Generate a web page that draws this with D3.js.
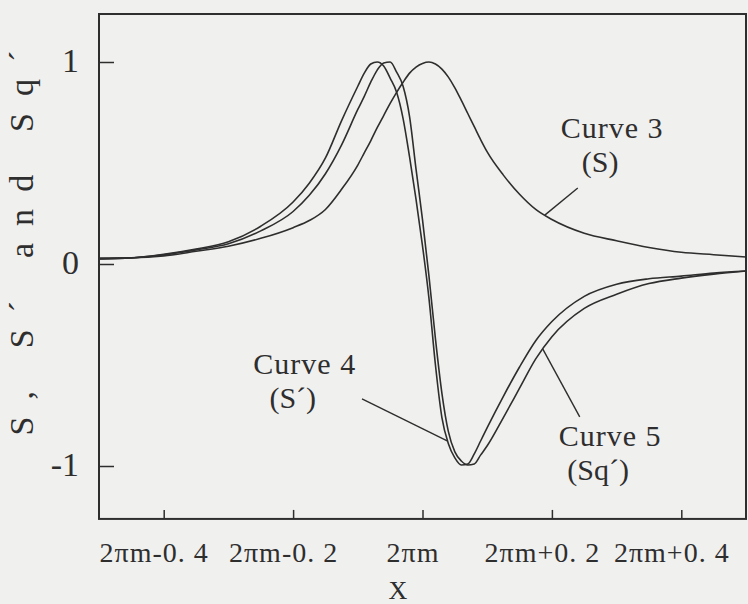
<!DOCTYPE html>
<html>
<head>
<meta charset="utf-8">
<script src="https://cdn.jsdelivr.net/npm/d3@7"></script>
<style>
  html, body { margin: 0; padding: 0; background: #f0f0ee; }
  svg { display: block; }
  text { font-family: "Liberation Serif", "DejaVu Serif", serif; fill: #2e2e2e; }
</style>
</head>
<body>
<svg id="chart" width="748" height="604"></svg>
<script>
// Sample positions along x (offset from 2πm)
const xGrid = [-0.5, -0.45, -0.4, -0.35, -0.3, -0.25, -0.2, -0.175, -0.15, -0.125,
  -0.1, -0.09, -0.08, -0.07, -0.06, -0.05, -0.04, -0.03, -0.02, -0.01,
  0, 0.01, 0.02, 0.03, 0.04, 0.05, 0.06, 0.07, 0.08, 0.09,
  0.1, 0.125, 0.15, 0.175, 0.2, 0.25, 0.3, 0.35, 0.4, 0.45, 0.5];

// Curve 3 (S)
const curveS = [0.03, 0.031, 0.040, 0.063, 0.088, 0.127, 0.180, 0.215, 0.27, 0.37,
  0.49, 0.55, 0.61, 0.675, 0.735, 0.795, 0.85, 0.90, 0.945, 0.975,
  0.993, 1.0, 0.99, 0.965, 0.925, 0.872, 0.81, 0.745, 0.68, 0.615,
  0.555, 0.44, 0.345, 0.27, 0.22, 0.152, 0.115, 0.082, 0.058, 0.046, 0.035];

// Curve 4 (S´)
const curveSPrime = [0.025, 0.03, 0.048, 0.074, 0.11, 0.187, 0.307, 0.40, 0.525, 0.71,
  0.88, 0.945, 0.99, 1.0, 0.98, 0.92, 0.85, 0.72, 0.53, 0.32,
  0.09, -0.17, -0.50, -0.76, -0.89, -0.96, -0.995, -0.99, -0.94, -0.875,
  -0.81, -0.655, -0.51, -0.38, -0.285, -0.16, -0.10, -0.073, -0.06, -0.045, -0.035];

// Curve 5 (Sq´)
const curveSqPrime = [0.025, 0.03, 0.045, 0.07, 0.10, 0.164, 0.26, 0.34, 0.447, 0.59,
  0.765, 0.83, 0.90, 0.96, 0.995, 1.0, 0.95, 0.88, 0.73, 0.47,
  0.22, -0.06, -0.37, -0.64, -0.83, -0.93, -0.975, -0.995, -0.99, -0.945,
  -0.90, -0.76, -0.615, -0.47, -0.36, -0.22, -0.15, -0.097, -0.07, -0.05, -0.035];

const xTickValues = [-0.4, -0.2, 0, 0.2, 0.4];
const xTickLabels = ["2πm-0. 4", "2πm-0. 2", "2πm", "2πm+0. 2", "2πm+0. 4"];
const yTickValues = [-1, 0, 1];
const yTickLabels = ["-1", "0", "1"];
const xTitle = "X";
const yTitle = "S, S´ and Sq´";

const seriesList = [curveS, curveSPrime, curveSqPrime];

// Callouts: label anchor (data units), leader start (data units), leader end on a curve at x
const calloutTitles = ["Curve 3", "Curve 4", "Curve 5"];
const calloutSubs = ["(S)", "(S´)", "(Sq´)"];
const calloutSeries = [0, 1, 2];
const calloutLabelX = [0.293, -0.182, 0.290];
const calloutLabelY = [0.625, -0.545, -0.90];
const calloutFromX = [0.240, -0.0935, 0.243];
const calloutFromY = [0.376, -0.668, -0.757];
const calloutAtX = [0.189, 0.039, 0.186];

// Layout
const svg = d3.select("#chart");
const x = d3.scaleLinear().domain([-0.5, 0.5]).range([99, 746]);
const y = d3.scaleLinear().domain([-1, 1]).range([466, 62]);
const yTopVal = 1.2376, yBotVal = -1.262;
const ink = "#2e2e2e";

// Frame
svg.append("rect")
  .attr("x", x(-0.5)).attr("y", y(yTopVal))
  .attr("width", x(0.5) - x(-0.5)).attr("height", y(yBotVal) - y(yTopVal))
  .attr("fill", "none").attr("stroke", ink).attr("stroke-width", 2);

// X axis (ticks pointing into the plot)
const xAxis = d3.axisBottom(x)
  .tickValues(xTickValues)
  .tickFormat((d, i) => xTickLabels[i])
  .tickSizeInner(-9).tickSizeOuter(0).tickPadding(23);
const gx = svg.append("g").attr("transform", `translate(0,${y(yBotVal)})`).call(xAxis);
gx.select(".domain").remove();
gx.selectAll(".tick line").attr("stroke", ink).attr("stroke-width", 1.5);
gx.selectAll(".tick text")
  .attr("fill", ink).attr("font-size", 28).attr("dx", -10)
  .style("letter-spacing", "1px")
  .attr("font-family", "Liberation Serif");

// Y axis (ticks pointing into the plot)
const yAxis = d3.axisLeft(y)
  .tickValues(yTickValues)
  .tickFormat((d, i) => yTickLabels[i])
  .tickSizeInner(-15).tickSizeOuter(0).tickPadding(20);
const gy = svg.append("g").attr("transform", `translate(${x(-0.5)},0)`).call(yAxis);
gy.select(".domain").remove();
gy.selectAll(".tick line").attr("stroke", ink).attr("stroke-width", 1.5);
gy.selectAll(".tick text")
  .attr("fill", ink).attr("font-size", 34).attr("dy", "0.28em")
  .attr("font-family", "Liberation Serif");

// Axis titles
svg.append("text")
  .attr("x", 398).attr("y", 599)
  .attr("text-anchor", "middle").attr("font-size", 26)
  .text(xTitle);

svg.append("text")
  .attr("transform", `translate(33,${243}) rotate(-90)`)
  .attr("text-anchor", "middle").attr("font-size", 34)
  .attr("textLength", 385).attr("lengthAdjust", "spacing")
  .text(yTitle);

// Curves
const line = d3.line()
  .x((d, i) => x(xGrid[i]))
  .y(d => y(d))
  .curve(d3.curveMonotoneX);

svg.append("g")
  .selectAll("path")
  .data(seriesList)
  .join("path")
  .attr("d", d => line(d))
  .attr("fill", "none")
  .attr("stroke", ink)
  .attr("stroke-width", 1.6);

// Callouts
calloutTitles.forEach((title, k) => {
  const along = d3.scaleLinear().domain(xGrid).range(seriesList[calloutSeries[k]]);
  const ax = calloutAtX[k];
  svg.append("line")
    .attr("x1", x(calloutFromX[k])).attr("y1", y(calloutFromY[k]))
    .attr("x2", x(ax)).attr("y2", y(along(ax)))
    .attr("stroke", ink).attr("stroke-width", 1.4);
  const cx = x(calloutLabelX[k]);
  const cy = y(calloutLabelY[k]);
  svg.append("text")
    .attr("x", cx).attr("y", cy)
    .attr("text-anchor", "middle").attr("font-size", 30)
    .style("letter-spacing", "1px")
    .text(title);
  svg.append("text")
    .attr("x", cx - 12).attr("y", cy + 34)
    .attr("text-anchor", "middle").attr("font-size", 30)
    .text(calloutSubs[k]);
});
</script>
</body>
</html>
